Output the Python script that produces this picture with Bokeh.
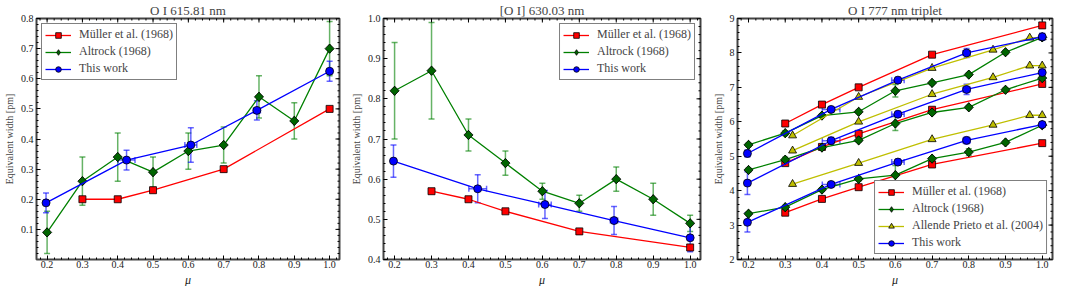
import math
from bokeh.plotting import figure
from bokeh.models import (ColumnDataSource, Whisker, TeeHead, FixedTicker, Title,
                          PrintfTickFormatter, Range1d, Legend, LegendItem)
from bokeh.layouts import row
from bokeh.embed import file_html
from bokeh.resources import INLINE

FONT = "Liberation Serif"

# ---------------- data ----------------
mu_ticks = [0.2, 0.3, 0.4, 0.5, 0.6, 0.7, 0.8, 0.9, 1.0]

muller_mu = [0.3, 0.4, 0.5, 0.7, 1.0]
altrock_mu = [0.2, 0.3, 0.4, 0.5, 0.6, 0.7, 0.8, 0.9, 1.0]
allende_mu = [0.32, 0.5, 0.7, 0.866, 0.966, 1.0]
this_mu = [0.197, 0.425, 0.607, 0.794, 1.0]
this_mu_err = [0.0, 0.024, 0.017, 0.010, 0.0]

# Panel 1: O I 615.81 nm
p1_muller = [0.20, 0.20, 0.23, 0.30, 0.50]
p1_altrock = [0.09, 0.26, 0.34, 0.29, 0.36, 0.38, 0.54, 0.46, 0.70]
p1_altrock_err = [0.07, 0.08, 0.08, 0.05, 0.06, 0.06, 0.07, 0.06, 0.09]
p1_this = [0.188, 0.330, 0.380, 0.495, 0.625]
p1_this_err = [0.033, 0.033, 0.057, 0.032, 0.033]

# Panel 2: [O I] 630.03 nm
p2_muller = [0.57, 0.55, 0.52, 0.47, 0.43]
p2_altrock = [0.82, 0.87, 0.71, 0.64, 0.57, 0.54, 0.60, 0.55, 0.49]
p2_altrock_err = [0.12, 0.12, 0.04, 0.03, 0.02, 0.02, 0.03, 0.04, 0.02]
p2_this = [0.645, 0.576, 0.537, 0.497, 0.454]
p2_this_err = [0.040, 0.035, 0.035, 0.035, 0.035]

# Panel 3: O I 777 nm triplet (three lines each)
p3_muller = [
    [5.95, 6.50, 7.00, 7.95, 8.80],
    [4.80, 5.27, 5.65, 6.35, 7.10],
    [3.36, 3.76, 4.10, 4.76, 5.38],
]
p3_altrock = [
    [5.33, 5.67, 6.18, 6.29, 6.90, 7.13, 7.37, 8.02, 8.45],
    [4.60, 4.90, 5.25, 5.46, 5.95, 6.27, 6.42, 6.93, 7.27],
    [3.33, 3.52, 4.03, 4.34, 4.45, 4.93, 5.12, 5.40, 5.90],
]
p3_altrock_err = [
    [0.05, 0.07, 0.05, 0.05, 0.18, 0.05, 0.05, 0.05, 0.05],
    [0.05, 0.07, 0.05, 0.05, 0.20, 0.05, 0.05, 0.05, 0.05],
    [0.05, 0.05, 0.05, 0.05, 0.28, 0.05, 0.10, 0.05, 0.05],
]
p3_allende = [
    [5.60, 6.72, 7.56, 8.09, 8.44, 8.45],
    [5.16, 6.00, 6.80, 7.29, 7.63, 7.63],
    [4.19, 4.80, 5.49, 5.91, 6.19, 6.19],
]
p3_this = [
    [5.08, 6.36, 7.21, 8.00, 8.47],
    [4.22, 5.45, 6.22, 6.94, 7.43],
    [3.08, 4.18, 4.83, 5.46, 5.92],
]
p3_this_err = [
    [0.10, 0.08, 0.08, 0.13, 0.10],
    [0.33, 0.10, 0.08, 0.15, 0.08],
    [0.28, 0.08, 0.08, 0.10, 0.08],
]

RED, GREEN, BLUE, YELLOW = "#ff0000", "#008000", "#0000ff", "#bfbf00"
GREEN_FILL = "#006400"
XR = (0.17, 1.028)


def frange(a, b, s):
    out, v = [], a
    while v <= b + 1e-9:
        out.append(round(v, 4))
        v += s
    return out


def make_fig(title, yr, yticks, yminor, width, left, right, ylab_fmt):
    p = figure(width=width, height=286, x_range=Range1d(*XR), y_range=Range1d(*yr),
               output_backend="svg", toolbar_location=None, min_border_left=left,
               min_border_right=right, min_border_top=2, min_border_bottom=0)
    p.title.text = title
    p.title.align = "center"
    p.title.text_font = FONT
    p.title.text_font_size = "13px"
    p.title.text_font_style = "normal"
    p.title.standoff = 1
    p.title.offset = 0
    p.xgrid.grid_line_color = None
    p.ygrid.grid_line_color = None
    p.outline_line_color = "#444444"
    p.outline_line_width = 2
    xminor = frange(0.18, 1.02, 0.02)
    xt = FixedTicker(ticks=mu_ticks, minor_ticks=xminor)
    yt = FixedTicker(ticks=yticks, minor_ticks=yminor)
    p.xaxis.ticker = xt
    p.yaxis.ticker = yt
    p.xaxis.formatter = PrintfTickFormatter(format="%.1f")
    p.yaxis.formatter = PrintfTickFormatter(format=ylab_fmt)
    p.yaxis.axis_label = "Equivalent width [pm]"
    for ax in p.axis:
        ax.axis_line_color = None
        ax.major_tick_in = 4
        ax.major_tick_out = 0
        ax.minor_tick_in = 2
        ax.minor_tick_out = 0
        ax.major_tick_line_color = "black"
        ax.minor_tick_line_color = "black"
        ax.major_label_text_font = FONT
        ax.major_label_text_font_size = "10px"
        ax.major_label_text_color = "#222222"
        ax.major_label_standoff = 3
        ax.axis_label_text_font = FONT
        ax.axis_label_text_font_size = "10px"
        ax.axis_label_text_font_style = "normal"
        ax.axis_label_standoff = 3
    p.xaxis[0].major_label_standoff = 1
    # x-axis label as a title below the axis
    p.add_layout(Title(text="μ", align="center", text_font=FONT, text_font_size="12px",
                       text_font_style="italic", text_color="#222222", standoff=0, offset=0),
                 "below")
    # mirrored inward ticks on top and right edges (clipped to the frame)
    ymaj = [t for t in yticks if yr[0] <= t <= yr[1]]
    ymin_ = [t for t in yminor if yr[0] <= t <= yr[1]]
    p.scatter(mu_ticks, [yr[1]] * len(mu_ticks), marker="dash", angle=math.pi / 2, size=8,
              line_color="black", line_width=1)
    p.scatter(xminor, [yr[1]] * len(xminor), marker="dash", angle=math.pi / 2, size=4,
              line_color="black", line_width=1)
    p.scatter([XR[1]] * len(ymaj), ymaj, marker="dash", size=8, line_color="black", line_width=1)
    p.scatter([XR[1]] * len(ymin_), ymin_, marker="dash", size=4, line_color="black", line_width=1)
    return p


def whisk(p, src, base, dim, color):
    head = dict(size=6, line_color=color, line_alpha=0.6, line_width=1.5)
    w = Whisker(source=src, base=base, lower="lo", upper="hi", dimension=dim,
                line_color=color, line_alpha=0.6, line_width=1.5, level="underlay",
                upper_head=TeeHead(**head), lower_head=TeeHead(**head))
    p.add_layout(w)


def yerr(p, x, y, e, color):
    src = ColumnDataSource(dict(x=x, lo=[a - b for a, b in zip(y, e)], hi=[a + b for a, b in zip(y, e)]))
    whisk(p, src, "x", "height", color)


def xerr(p, x, y, e, color):
    xs = [a for a, b in zip(x, e) if b > 0]
    ys = [a for a, b in zip(y, e) if b > 0]
    es = [b for b in e if b > 0]
    src = ColumnDataSource(dict(y=ys, lo=[a - b for a, b in zip(xs, es)], hi=[a + b for a, b in zip(xs, es)]))
    whisk(p, src, "y", "width", color)


def series(p, x, y, color, fill, marker, size):
    l = p.line(x, y, line_color=color, line_width=1.3)
    s = p.scatter(x, y, marker=marker, size=size, fill_color=fill,
                  line_color="black", line_width=0.8)
    return [l, s]


def diamonds(p, x, y, color, fill):
    # matplotlib-style diamonds: a plain diamond (used for the legend) under a rotated square
    l = p.line(x, y, line_color=color, line_width=1.3)
    d = p.scatter(x, y, marker="diamond", size=9, fill_color=fill, line_color="black", line_width=0.8)
    p.scatter(x, y, marker="square", size=6.5, angle=math.pi / 4, fill_color=fill,
              line_color="black", line_width=0.8)
    return [l, d]


def add_legend(p, items, loc):
    lg = Legend(items=[LegendItem(label=t, renderers=r) for t, r in items], location=loc)
    lg.label_text_font = FONT
    lg.label_text_font_size = "12px"
    lg.border_line_color = "black"
    lg.border_line_width = 1.5
    lg.background_fill_color = "white"
    lg.background_fill_alpha = 1
    lg.glyph_width = 26
    lg.glyph_height = 14
    lg.label_height = 14
    lg.spacing = 2
    lg.padding = 3
    lg.margin = 5
    lg.label_standoff = 8
    p.add_layout(lg)


def curves(p, mu_m, ym, mu_a, ya, ea, mu_t, yt, et, mu_y=None, yy=None):
    yerr(p, mu_a, ya, ea, GREEN)
    yerr(p, mu_t, yt, et, BLUE)
    xerr(p, mu_t, yt, this_mu_err, BLUE)
    rm = series(p, mu_m, ym, RED, RED, "square", 7)
    ra = diamonds(p, mu_a, ya, GREEN, GREEN_FILL)
    ry = series(p, mu_y, yy, YELLOW, YELLOW, "triangle", 8) if mu_y is not None else None
    rt = series(p, mu_t, yt, BLUE, BLUE, "circle", 8)
    return rm, ra, ry, rt


# ---------------- panel 1 ----------------
p1 = make_fig("O I 615.81 nm", (0.0, 0.8), frange(0.1, 0.8, 0.1), frange(0.02, 0.8, 0.02),
              343, 30, 4, "%.1f")
rm, ra, _, rt = curves(p1, muller_mu, p1_muller, altrock_mu, p1_altrock, p1_altrock_err,
                       this_mu, p1_this, p1_this_err)
add_legend(p1, [("Müller et al. (1968)", rm), ("Altrock (1968)", ra), ("This work", rt)], "top_left")

# ---------------- panel 2 ----------------
p2 = make_fig("[O I] 630.03 nm", (0.4, 1.0), frange(0.4, 1.0, 0.1), frange(0.4, 1.0, 0.02),
              361, 40, 4, "%.1f")
rm, ra, _, rt = curves(p2, muller_mu, p2_muller, altrock_mu, p2_altrock, p2_altrock_err,
                       this_mu, p2_this, p2_this_err)
add_legend(p2, [("Müller et al. (1968)", rm), ("Altrock (1968)", ra), ("This work", rt)], "top_right")

# ---------------- panel 3 ----------------
p3 = make_fig("O I 777 nm triplet", (2.0, 9.0), frange(2, 9, 1), frange(2, 9, 0.2),
              350, 33, 2, "%d")
first = None
for i in range(3):
    r = curves(p3, muller_mu, p3_muller[i], altrock_mu, p3_altrock[i], p3_altrock_err[i],
               this_mu, p3_this[i], p3_this_err[i], allende_mu, p3_allende[i])
    if first is None:
        first = r
add_legend(p3, [("Müller et al. (1968)", first[0]), ("Altrock (1968)", first[1]),
                ("Allende Prieto et al. (2004)", first[2]), ("This work", first[3])], "bottom_right")

layout = row(p1, p2, p3)
open("out.html", "w").write(file_html(layout, INLINE))
